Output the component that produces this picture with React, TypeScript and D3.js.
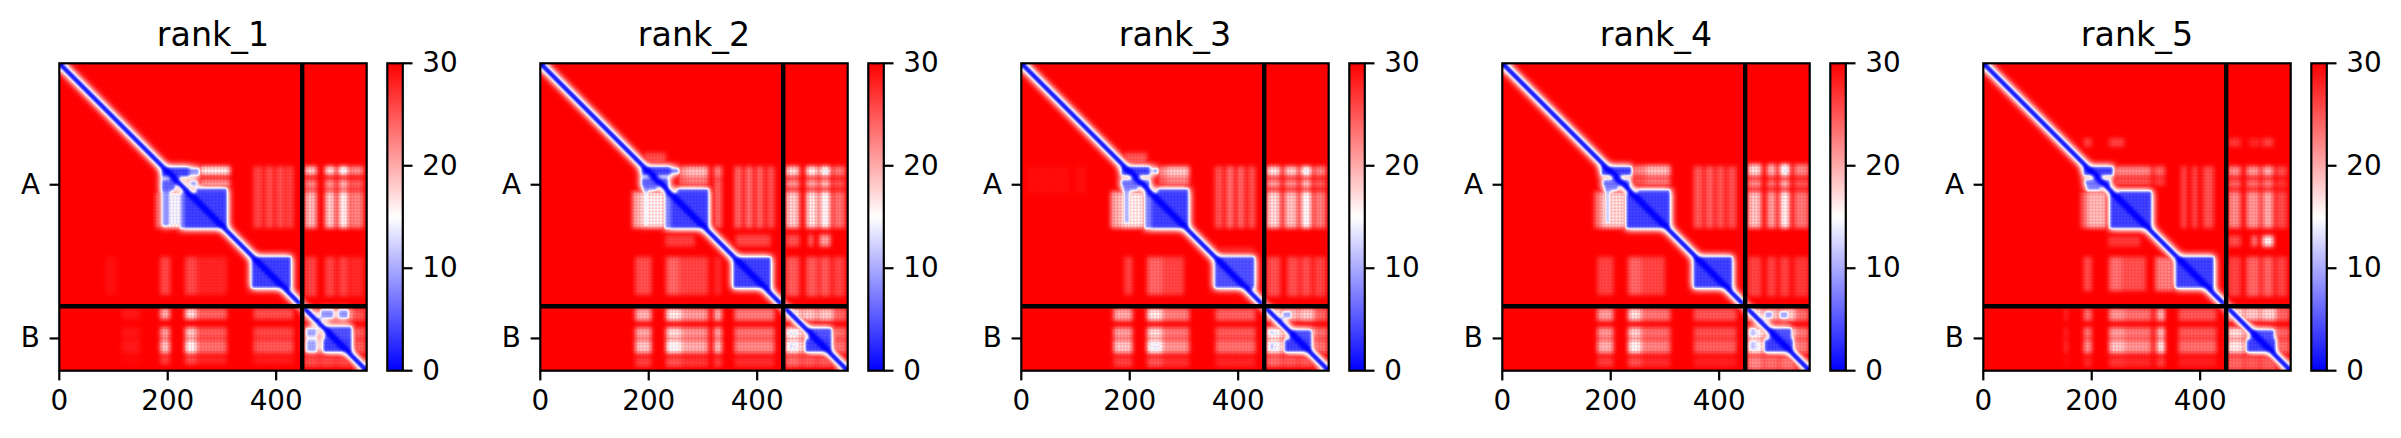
import React, { useEffect, useRef } from 'react';
import * as d3 from 'd3';

type Band = [number, number, number];           // start, end, weight
type Lattice = [Band[], Band[]];                // column bands, row bands
type Block = [number, number, number, number, number]; // x0, x1, y0, y1, PAE

const rankNames = ['rank_1', 'rank_2', 'rank_3', 'rank_4', 'rank_5'];
const residueCount = 567;
const chainBreak = 448;
const chainTicks = [224, 507.5];
const chainLabels = ['A', 'B'];
const xTicks = [0, 200, 400];
const colorTicks = [0, 10, 20, 30];
const chains = [[0, 448], [448, 567]];
const diagHalfWidth = 8;
const diagValue = 0;
const blockPad = 1.5;
// per-residue weave seen in the pale bands
const weave = [1, 0.96, 0.88, 0.84, 0.9, 0.98];

const rank1Blocks: Block[] = [
  [232, 309, 240, 304, 3], [253, 309, 231, 240, 4], [222, 241, 240, 304, 8],
  [189, 238, 192, 209, 3], [241, 258, 194, 206, 8], [189, 213, 215, 234, 5], [241, 254, 217, 226, 9],
  [190, 204, 234, 300, 8], [355, 427, 357, 414, 3],
  [482, 506, 455, 470, 8], [515, 533, 455, 470, 8], [456, 475, 489, 504, 9], [490, 539, 486, 507, 4],
  [456, 475, 510, 532, 9], [487, 539, 510, 532, 3],
];
const rank1Pale: Lattice[] = [
  [[[245, 258, 0.6], [260, 315, 1]], [[190, 206, 1.1], [214, 226, 0.7], [226, 238, 0.5]]],
  [[[358, 375, 0.35], [380, 395, 0.4], [400, 415, 0.4], [418, 432, 0.35]], [[190, 304, 0.9]]],
  [[[453, 475, 0.85], [490, 509, 0.95], [515, 533, 1.15], [536, 561, 0.6]], [[190, 206, 1.1], [214, 232, 0.7], [236, 304, 0.95]]],
  [[[85, 105, 0.08], [186, 205, 0.35], [232, 253, 0.35], [253, 309, 0.18]], [[357, 427, 0.9]]],
  [[[453, 475, 0.3], [490, 509, 0.3], [515, 533, 0.3], [536, 561, 0.18]], [[357, 430, 1]]],
  [[[178, 190, 0.5], [190, 232, 1.1]], [[236, 304, 1.1]]],
  [[[115, 149, 0.1], [186, 204, 0.8], [232, 253, 1], [253, 309, 0.45], [358, 432, 0.35]], [[452, 472, 1], [487, 507, 0.9], [510, 535, 1.1], [540, 555, 0.35]]],
  [[[452, 478, 1], [480, 510, 0.9], [512, 540, 0.9], [540, 565, 0.4]], [[452, 475, 0.9], [487, 507, 1], [510, 535, 1], [540, 560, 0.35]]],
];

const rank2Blocks: Block[] = [
  [243, 310, 240, 304, 3], [253, 310, 232, 240, 4], [230, 243, 240, 304, 7],
  [187, 239, 191, 206, 3], [239, 255, 194, 203, 7], [187, 236, 212, 226, 5], [190, 215, 226, 234, 7],
  [192, 198, 234, 300, 12], [356, 425, 358, 414, 3],
  [495, 537, 489, 507, 4], [489, 537, 510, 532, 3], [459, 466, 492, 500, 12], [459, 467, 514, 528, 12],
];
const rank2Pale: Lattice[] = [
  [[[170, 187, 0.8], [187, 232, 1.1]], [[236, 304, 0.95]]],
  [[[190, 232, 1]], [[165, 190, 0.35]]],
  [[[255, 270, 0.7], [270, 310, 0.85], [320, 335, 0.6]], [[190, 210, 1], [212, 225, 0.7]]],
  [[[320, 335, 0.5]], [[225, 304, 0.9]]],
  [[[358, 372, 0.5], [378, 392, 0.55], [398, 412, 0.5], [418, 432, 0.4]], [[190, 304, 0.95]]],
  [[[453, 478, 0.9], [490, 512, 1], [516, 535, 1.15], [540, 562, 0.5]], [[190, 208, 1.1], [214, 230, 0.75], [236, 304, 1]]],
  [[[230, 285, 0.3], [360, 425, 0.35], [453, 478, 0.4], [495, 503, 0.6], [515, 535, 0.8]], [[316, 338, 0.9]]],
  [[[175, 205, 0.35], [232, 256, 0.45], [256, 310, 0.3], [320, 335, 0.18]], [[357, 427, 1]]],
  [[[453, 478, 0.4], [490, 512, 0.4], [516, 535, 0.4], [540, 562, 0.3]], [[357, 430, 1]]],
  [[[175, 205, 0.8], [232, 260, 1.05], [260, 310, 0.7], [320, 335, 0.8], [358, 432, 0.55]], [[452, 475, 1], [487, 507, 0.95], [510, 535, 1.1], [542, 560, 0.35]]],
  [[[452, 480, 1.1], [482, 510, 0.9], [512, 540, 0.9], [540, 565, 0.45]], [[452, 475, 1], [487, 507, 1.1], [510, 535, 1.1], [540, 560, 0.45]]],
];

const rank3Blocks: Block[] = [
  [242, 308, 240, 304, 3], [252, 308, 232, 240, 4], [228, 242, 240, 304, 7],
  [185, 237, 191, 206, 3], [243, 252, 194, 203, 9], [185, 237, 215, 225, 6], [188, 215, 226, 234, 7],
  [190, 199, 234, 295, 9], [357, 430, 357, 414, 4],
  [482, 498, 458, 470, 9], [458, 467, 492, 501, 11], [458, 467, 514, 529, 11],
  [495, 535, 492, 507, 4], [486, 535, 510, 532, 3],
];
const rank3Pale: Lattice[] = [
  [[[165, 185, 0.8], [185, 228, 1.1]], [[236, 304, 0.95]]],
  [[[188, 232, 1]], [[165, 190, 0.4]]],
  [[[252, 268, 0.65], [268, 310, 0.9]], [[190, 210, 1], [212, 225, 0.7]]],
  [[[357, 372, 0.4], [378, 392, 0.55], [398, 412, 0.5], [418, 432, 0.4]], [[190, 304, 0.95]]],
  [[[453, 478, 0.95], [485, 510, 0.85], [516, 535, 1.15], [540, 562, 0.55]], [[190, 208, 1.1], [214, 230, 0.75], [236, 304, 1]]],
  [[[10, 90, 0.05], [100, 120, 0.06]], [[190, 240, 1]]],
  [[[190, 205, 0.3], [232, 260, 0.45], [260, 300, 0.3]], [[357, 427, 1]]],
  [[[453, 478, 0.35], [490, 512, 0.35], [516, 535, 0.35], [540, 562, 0.3]], [[357, 430, 1]]],
  [[[170, 205, 0.8], [232, 260, 1.1], [260, 310, 0.6], [358, 432, 0.45]], [[452, 475, 0.95], [487, 507, 0.9], [510, 535, 1.1], [542, 560, 0.35]]],
  [[[452, 480, 1.1], [482, 510, 0.9], [512, 540, 0.9], [540, 565, 0.45]], [[452, 475, 1], [487, 507, 1.1], [510, 535, 1.1], [540, 560, 0.45]]],
  [[[360, 430, 0.55]], [[340, 357, 0.4]]],
];

const rank4Blocks: Block[] = [
  [229, 309, 242, 304, 3], [250, 309, 234, 242, 4],
  [183, 238, 191, 206, 3], [186, 235, 215, 225, 6], [189, 213, 226, 234, 7],
  [191, 198, 234, 295, 10], [353, 424, 357, 414, 3],
  [484, 499, 458, 470, 9], [512, 527, 458, 470, 9], [456, 469, 489, 504, 11], [456, 469, 512, 529, 11],
  [493, 533, 489, 507, 4], [484, 536, 510, 532, 3],
];
const rank4Pale: Lattice[] = [
  [[[170, 183, 0.6], [183, 229, 1.05]], [[236, 304, 0.9]]],
  [[[240, 265, 0.6], [265, 310, 0.85]], [[188, 208, 1], [212, 225, 0.7]]],
  [[[353, 370, 0.45], [375, 390, 0.5], [395, 410, 0.45], [415, 432, 0.4]], [[190, 304, 0.9]]],
  [[[453, 478, 0.9], [488, 505, 0.75], [512, 530, 1.15], [538, 565, 0.55]], [[186, 208, 1.1], [214, 230, 0.7], [236, 304, 0.95]]],
  [[[175, 205, 0.3], [232, 256, 0.45], [256, 300, 0.3]], [[357, 427, 1]]],
  [[[453, 478, 0.3], [488, 505, 0.3], [512, 530, 0.3], [538, 565, 0.25]], [[357, 430, 1]]],
  [[[175, 205, 0.75], [232, 256, 1.05], [256, 310, 0.55], [353, 432, 0.4]], [[452, 475, 0.95], [487, 507, 0.9], [510, 535, 1.05], [542, 560, 0.35]]],
  [[[452, 480, 1.1], [482, 510, 0.9], [512, 540, 0.95], [540, 565, 0.5]], [[452, 475, 1], [487, 507, 1.1], [510, 535, 1.1], [540, 566, 0.55]]],
];

const rank5Blocks: Block[] = [
  [234, 310, 242, 304, 3], [250, 310, 236, 242, 4],
  [185, 239, 191, 206, 3], [188, 234, 215, 223, 6], [191, 216, 224, 234, 7],
  [355, 425, 357, 414, 3],
  [493, 536, 492, 506, 4], [486, 539, 510, 532, 3],
];
const rank5Pale: Lattice[] = [
  [[[180, 191, 0.5], [191, 228, 0.9]], [[236, 304, 0.9]]],
  [[[240, 265, 0.65], [265, 310, 0.65], [315, 335, 0.5]], [[190, 208, 0.95], [212, 225, 0.6]]],
  [[[365, 375, 0.45], [385, 395, 0.45], [405, 425, 0.45]], [[190, 304, 0.8]]],
  [[[452, 475, 0.65], [485, 510, 0.7], [515, 535, 0.8], [540, 560, 0.35]], [[190, 208, 1], [214, 230, 0.7], [236, 304, 0.95]]],
  [[[185, 200, 0.3], [232, 260, 0.3], [452, 475, 0.25], [490, 510, 0.18], [515, 535, 0.3]], [[138, 154, 1]]],
  [[[230, 290, 0.25], [325, 335, 0.3], [495, 505, 0.6], [515, 535, 1.1], [452, 475, 0.35]], [[318, 338, 1]]],
  [[[185, 200, 0.35], [232, 255, 0.5], [255, 300, 0.35], [317, 354, 0.55]], [[357, 420, 1]]],
  [[[452, 475, 0.3], [485, 510, 0.45], [515, 535, 0.45], [540, 560, 0.3]], [[357, 430, 1]]],
  [[[150, 155, 0.3], [185, 200, 0.6], [232, 260, 0.8], [260, 310, 0.6], [317, 335, 0.65], [325, 333, 1.1], [360, 430, 0.45]], [[452, 475, 0.85], [487, 507, 0.9], [510, 535, 1.1], [542, 560, 0.3]]],
  [[[450, 480, 1], [482, 510, 0.9], [512, 540, 0.95], [540, 565, 0.45]], [[450, 475, 1], [487, 507, 1], [510, 535, 1.05], [540, 566, 0.45]]],
];

const rankBlocks = [rank1Blocks, rank2Blocks, rank3Blocks, rank4Blocks, rank5Blocks];
const rankPale = [rank1Pale, rank2Pale, rank3Pale, rank4Pale, rank5Pale];

const color = d3.scaleLinear<string>().domain([0, 15, 30]).range(['#0000ff', '#ffffff', '#ff0000']).clamp(true);

// paint the PAE matrix of one rank, return it as an image
function paeImage(blocks: Block[], pale: Lattice[]) {
  const n = residueCount;
  const paleField = new Float64Array(n * n).fill(30);
  const blockField = new Float64Array(n * n).fill(30);

  pale.forEach(([cols, rows]) => {
    cols.forEach(([x0, x1, wx]) => rows.forEach(([y0, y1, wy]) => {
      for (let y = y0 | 0; y < y1; y++) for (let x = x0 | 0; x < x1; x++) {
        paleField[y * n + x] = Math.min(paleField[y * n + x], 30 - 15 * wx * wy);
      }
    }));
  });
  blocks.forEach(([x0, x1, y0, y1, v]) => {
    for (let y = Math.max(0, Math.floor(y0 - blockPad)); y < y1 + blockPad; y++) {
      for (let x = Math.max(0, Math.floor(x0 - blockPad)); x < Math.min(n, x1 + blockPad); x++) {
        blockField[y * n + x] = Math.min(blockField[y * n + x], v);
      }
    }
  });
  chains.forEach(([a, b]) => {
    for (let y = a; y < b; y++) for (let x = a; x < b; x++) {
      if (Math.abs(x - y) <= diagHalfWidth) blockField[y * n + x] = diagValue;
    }
  });

  // wide soft rim round the low-error blocks, only down to white
  const halo = Float64Array.from(blockField);
  d3.blur2({ data: paleField, width: n, height: n }, 3.5);
  d3.blur2({ data: blockField, width: n, height: n }, 2.5);
  d3.blur2({ data: halo, width: n, height: n }, 6);

  const canvas = document.createElement('canvas');
  canvas.width = n;
  canvas.height = n;
  const ctx = canvas.getContext('2d')!;
  const img = ctx.createImageData(n, n);
  for (let y = 0; y < n; y++) for (let x = 0; x < n; x++) {
    const i = y * n + x;
    const w = weave[x % weave.length] * weave[y % weave.length];
    const paleV = 30 - (30 - paleField[i]) * w;
    const offDiag = Math.abs(x - y) > diagHalfWidth;
    const blockV = offDiag && blockField[i] < 12 ? blockField[i] + 4 * (1 - w) : blockField[i];
    const c = d3.rgb(color(Math.min(paleV, blockV, Math.max(halo[i], 17))));
    img.data[i * 4] = c.r;
    img.data[i * 4 + 1] = c.g;
    img.data[i * 4 + 2] = c.b;
    img.data[i * 4 + 3] = 255;
  }
  ctx.putImageData(img, 0, 0);
  return canvas.toDataURL();
}

const App: React.FC = () => {
  const svgRef = useRef<SVGSVGElement>(null);

  useEffect(() => {
    if (!svgRef.current) return;
    const svg = d3.select(svgRef.current);
    svg.selectAll('*').remove();

    const fontSize = 27.8;
    const lineW = 2.2;
    const tickLen = 9.7;
    const top = 63.3;
    const size = 307.4;
    const cbOffset = 328;
    const cbWidth = 15.5;

    const defs = svg.append('defs');
    const grad = defs.append('linearGradient').attr('id', 'cbar').attr('x1', 0).attr('x2', 0).attr('y1', 1).attr('y2', 0);
    colorTicks.concat([15]).sort(d3.ascending).forEach(v => {
      grad.append('stop').attr('offset', v / 30).attr('stop-color', color(v));
    });

    rankNames.forEach((name, i) => {
      const left = 59.3 + 481 * i;
      const g = svg.append('g').attr('transform', `translate(${left},${top})`);
      const x = d3.scaleLinear().domain([0, residueCount]).range([0, size]);
      const y = d3.scaleLinear().domain([0, residueCount]).range([0, size]);

      g.append('image')
        .attr('href', paeImage(rankBlocks[i], rankPale[i]))
        .attr('width', size).attr('height', size)
        .attr('preserveAspectRatio', 'none');

      // chain boundaries
      g.append('line').attr('x1', x(chainBreak)).attr('x2', x(chainBreak)).attr('y1', 0).attr('y2', size)
        .attr('stroke', 'black').attr('stroke-width', 4.4);
      g.append('line').attr('y1', y(chainBreak)).attr('y2', y(chainBreak)).attr('x1', 0).attr('x2', size)
        .attr('stroke', 'black').attr('stroke-width', 4.4);

      g.append('rect').attr('width', size).attr('height', size)
        .attr('fill', 'none').attr('stroke', 'black').attr('stroke-width', lineW);

      const xAxis = g.append('g').attr('transform', `translate(0,${size})`)
        .call(d3.axisBottom(x).tickValues(xTicks).tickFormat(d3.format('d')).tickSize(tickLen).tickPadding(tickLen).offset(0));
      const yAxis = g.append('g')
        .call(d3.axisLeft(y).tickValues(chainTicks).tickFormat((_, k) => chainLabels[k]).tickSize(tickLen).tickPadding(tickLen).offset(0));

      g.append('text').attr('x', size / 2).attr('y', -17)
        .attr('text-anchor', 'middle').attr('font-size', 33.3).attr('fill', 'black').text(name);

      // colorbar
      const cb = g.append('g').attr('transform', `translate(${cbOffset},0)`);
      const cy = d3.scaleLinear().domain([0, 30]).range([size, 0]);
      cb.append('rect').attr('width', cbWidth).attr('height', size)
        .attr('fill', 'url(#cbar)').attr('stroke', 'black').attr('stroke-width', lineW);
      const cAxis = cb.append('g').attr('transform', `translate(${cbWidth},0)`)
        .call(d3.axisRight(cy).tickValues(colorTicks).tickFormat(d3.format('d')).tickSize(tickLen).tickPadding(tickLen).offset(0));

      [xAxis, yAxis, cAxis].forEach(a => {
        a.select('.domain').remove();
        a.selectAll('.tick line').attr('stroke', 'black').attr('stroke-width', lineW);
        a.selectAll('.tick text').attr('fill', 'black');
        a.attr('font-size', fontSize).attr('font-family', "'DejaVu Sans'");
      });
    });
  }, []);

  return (
    <svg
      ref={svgRef}
      width={2401}
      height={438}
      viewBox="0 0 2401 438"
      fontFamily="'DejaVu Sans'"
      style={{ position: 'absolute', left: 0, top: 0, background: 'white' }}
    />
  );
};

export default App;
